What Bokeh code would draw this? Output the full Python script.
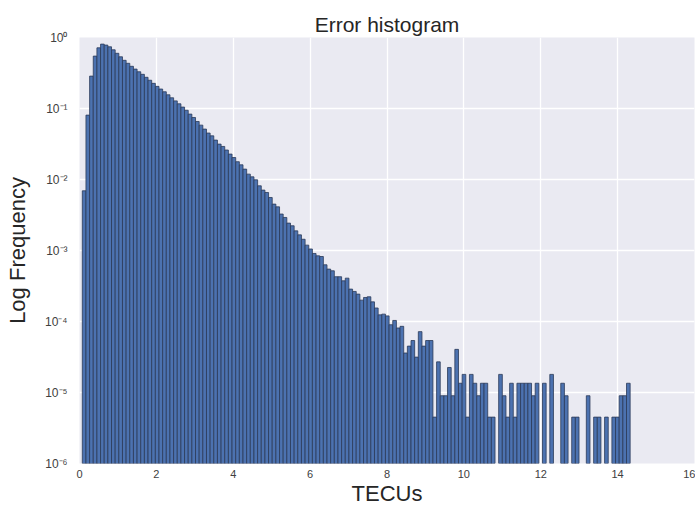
import numpy as np
from bokeh.plotting import figure
from bokeh.models import Range1d, FixedTicker, CustomJSTickFormatter, ColumnDataSource
from bokeh.embed import file_html
from bokeh.resources import INLINE

# Histogram of absolute errors (TECU), normalised to a density, 150 equal bins
bin_lo = 0.073
bin_hi = 14.326
n_bins = 150

density = [
    0.00693, 0.0807, 0.286, 0.547, 0.716, 0.807, 0.782, 0.740, 0.671, 0.599,
    0.535, 0.477, 0.433, 0.393, 0.359, 0.329, 0.303, 0.275, 0.250, 0.226,
    0.205, 0.188, 0.172, 0.156, 0.1415, 0.128, 0.1165, 0.1047, 0.0944, 0.0834,
    0.0747, 0.0656, 0.0583, 0.0513, 0.0451, 0.0412, 0.0359, 0.0315, 0.0292, 0.0260,
    0.0228, 0.0204, 0.0178, 0.0161, 0.0140, 0.0119, 0.0109, 0.00990, 0.00815, 0.00709,
    0.00656, 0.00558, 0.00450, 0.00412, 0.00326, 0.00292, 0.00243, 0.00223, 0.00189, 0.00166,
    0.00144, 0.00119, 0.00105, 0.000908, 0.000842, 0.000823, 0.000629, 0.000547, 0.000518, 0.000427,
    0.000427, 0.000374, 0.000408, 0.000286, 0.000265, 0.000243, 0.000200, 0.000218, 0.000223, 0.000189,
    0.000155, 0.000124, 0.000127, 0.000120, 9.0e-05, 1.035e-04, 8.1e-05, 8.55e-05, 3.6e-05, 4.5e-05,
    5.4e-05, 3.15e-05, 7.2e-05, 4.5e-05, 5.4e-05, 5.4e-05, 4.5e-06, 2.7e-05, 9.0e-06, 9.0e-06,
    2.25e-05, 9.0e-06, 4.05e-05, 1.35e-05, 1.8e-05, 4.5e-06, 1.8e-05, 1.35e-05, 9.0e-06, 1.35e-05,
    1.35e-05, 4.5e-06, 4.5e-06, 0.0, 1.8e-05, 9.0e-06, 4.5e-06, 1.35e-05, 4.5e-06, 1.35e-05,
    1.35e-05, 1.35e-05, 1.35e-05, 9.0e-06, 1.35e-05, 0.0, 1.35e-05, 0.0, 1.8e-05, 0.0,
    0.0, 1.35e-05, 9.0e-06, 0.0, 4.5e-06, 4.5e-06, 0.0, 0.0, 9.0e-06, 0.0,
    4.5e-06, 4.5e-06, 0.0, 4.5e-06, 0.0, 4.5e-06, 4.5e-06, 9.0e-06, 9.0e-06, 1.35e-05,
]

x_ticks = [0, 2, 4, 6, 8, 10, 12, 14, 16]
y_ticks = [1e-6, 1e-5, 1e-4, 1e-3, 1e-2, 1e-1, 1]

edges = np.linspace(bin_lo, bin_hi, n_bins + 1)
dens = np.array(density)
keep = dens > 0
floor = y_ticks[0]
src = ColumnDataSource(dict(
    left=edges[:-1][keep], right=edges[1:][keep],
    top=dens[keep], bottom=np.full(keep.sum(), floor),
))

FONT = "Liberation Sans"

p = figure(
    width=695, height=508,
    x_range=Range1d(0, 16), y_range=Range1d(floor, 1),
    y_axis_type="log",
    output_backend="svg", toolbar_location=None,
    title="Error histogram",
    min_border_left=79, min_border_right=1, min_border_top=37, min_border_bottom=45,
)

p.quad(left="left", right="right", top="top", bottom="bottom", source=src,
       fill_color="#4C72B0", line_color="#2b3a58", line_width=0.8)

p.background_fill_color = "#EAEAF2"
p.border_fill_color = "white"
p.outline_line_color = None

p.title.align = "center"
p.title.text_font = FONT
p.title.text_font_size = "21px"
p.title.text_font_style = "normal"
p.title.text_color = "#262626"
p.title.standoff = 4

for ax in (p.xaxis[0], p.yaxis[0]):
    ax.axis_line_color = None
    ax.major_tick_line_color = None
    ax.minor_tick_line_color = None
    ax.major_tick_out = 0
    ax.major_tick_in = 0
    ax.minor_tick_out = 0
    ax.minor_tick_in = 0
    ax.major_label_text_font = FONT
    ax.major_label_text_font_size = "11px"
    ax.major_label_text_color = "#404040"
    ax.axis_label_text_font = FONT
    ax.axis_label_text_font_size = "22px"
    ax.axis_label_text_font_style = "normal"
    ax.axis_label_text_color = "#262626"

p.yaxis.major_label_text_font_size = "12px"
p.xaxis.ticker = FixedTicker(ticks=x_ticks)
p.yaxis.ticker = FixedTicker(ticks=y_ticks)
p.xaxis.axis_label = "TECUs"
p.yaxis.axis_label = "Log Frequency"
p.xaxis.major_label_standoff = 6
p.yaxis.major_label_standoff = 12
p.xaxis.axis_label_standoff = 0
p.yaxis.axis_label_standoff = 12

p.yaxis.formatter = CustomJSTickFormatter(code="""
    const sup = {"-": "\u207b", "0": "\u2070", "1": "\u00b9", "2": "\u00b2", "3": "\u00b3",
                 "4": "\u2074", "5": "\u2075", "6": "\u2076", "7": "\u2077", "8": "\u2078", "9": "\u2079"};
    const e = Math.round(Math.log10(tick));
    return "10" + String(e).split("").map(c => sup[c]).join("");
""")

p.xgrid.ticker = FixedTicker(ticks=x_ticks)
p.ygrid.ticker = FixedTicker(ticks=y_ticks)
p.grid.grid_line_color = "white"
p.grid.grid_line_width = 1.3
p.ygrid.minor_grid_line_color = None

open("out.html", "w").write(file_html(p, INLINE))
